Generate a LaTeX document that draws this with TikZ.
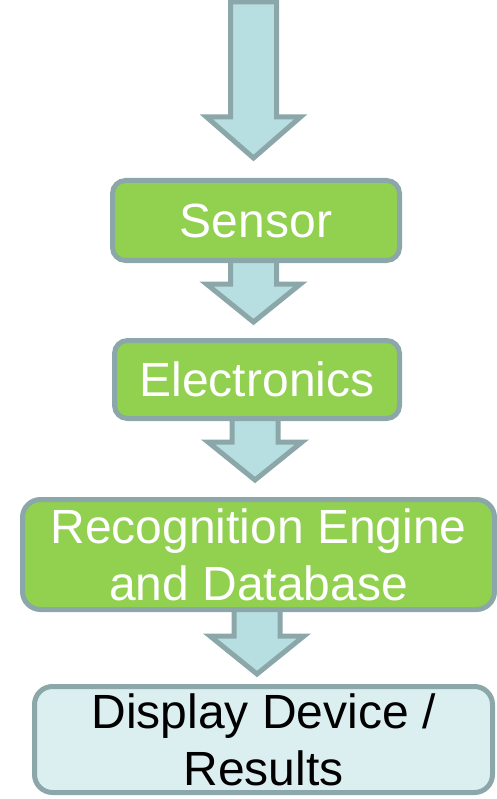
\documentclass[tikz,border=0pt]{standalone}
\usepackage{fontspec}
\setmainfont{Liberation Sans}
\usetikzlibrary{backgrounds,calc}
\definecolor{edgegray}{RGB}{139,167,169}
\definecolor{leafgreen}{RGB}{146,208,80}
\definecolor{arrowblue}{RGB}{183,223,226}
\definecolor{paleblue}{RGB}{219,238,240}
\tikzset{
  stage/.style={draw=edgegray, line width=5pt, rounded corners=13pt,
    font=\fontsize{48}{57}\selectfont, align=center, inner sep=0pt},
  greenstage/.style={stage, fill=leafgreen, text=white},
  bluestage/.style={stage, fill=paleblue, text=black},
  flowarrow/.style={draw=edgegray, line width=5pt, fill=arrowblue},
}
% block arrow: shaft starts level with #2, head tip sits at #3, head length #1
\newcommand\blockflow[3][38]{%
  \draw[flowarrow] let \p1=(#2), \p2=(#3) in
    (\x2-23pt,\y1) -- (\x2-23pt,\y2+#1pt) -- (\x2-47pt,\y2+#1pt) -- (\x2,\y2)
    -- (\x2+47pt,\y2+#1pt) -- (\x2+23pt,\y2+#1pt) -- (\x2+23pt,\y1) -- cycle;}
\begin{document}
\begin{tikzpicture}[x=1pt,y=-1pt]
  \useasboundingbox (0,0) rectangle (497,799);

  \node[greenstage, minimum width=287pt, minimum height=80pt] (sensor) at (256,220.5) {Sensor};
  \node[greenstage, minimum width=285pt, minimum height=78pt] (electronics) at (257,379.5) {Electronics};
  \node[greenstage, rounded corners=18pt, minimum width=472pt, minimum height=110pt] (engine) at (258.5,554.5)
    {Recognition Engine\\and Database};
  \node[bluestage, rounded corners=18pt, minimum width=458pt, minimum height=106pt] (display) at (263.5,739.5)
    {Display Device /\\Results};

  \coordinate (feed) at (253.5,2);
  \coordinate (tipA) at (253.5,158);
  \coordinate (tipB) at (253.5,322);
  \coordinate (tipC) at (255,480);
  \coordinate (tipD) at (257,674);

  \begin{scope}[on background layer]
    \blockflow[41]{feed}{tipA}
    \blockflow{sensor}{tipB}
    \blockflow{electronics}{tipC}
    \blockflow{engine}{tipD}
  \end{scope}
\end{tikzpicture}
\end{document}
